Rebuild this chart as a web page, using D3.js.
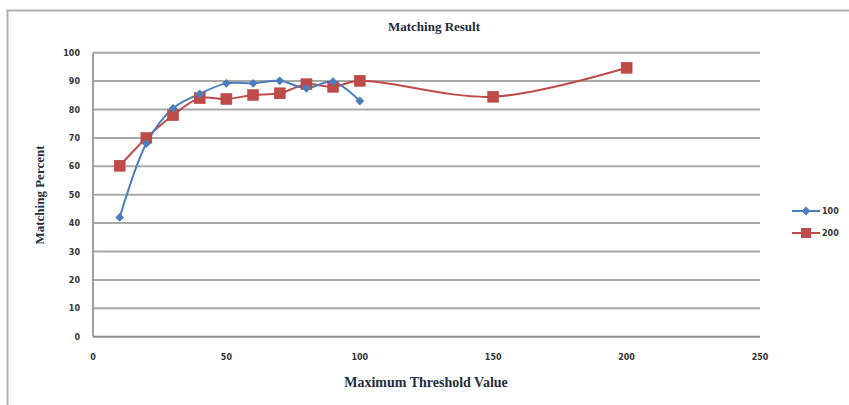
<!DOCTYPE html>
<html>
<head>
<meta charset="utf-8">
<script src="https://cdn.jsdelivr.net/npm/d3@7"></script>
<style>
  html, body { margin: 0; padding: 0; background: #fff; }
  svg { display: block; }
</style>
</head>
<body>
<svg id="chart" width="849" height="405"></svg>
<script>
// Threshold values on the x axis
const thresholds100 = [10, 20, 30, 40, 50, 60, 70, 80, 90, 100];
const thresholds200 = [10, 20, 30, 40, 50, 60, 70, 80, 90, 100, 150, 200];
// Matching percent per series
const series100 = [42, 68, 80.4, 85.5, 89.2, 89.2, 90.1, 87.5, 89.8, 83];
const series200 = [60.2, 70, 78, 84, 83.7, 85.1, 85.7, 88.9, 88, 90.1, 84.5, 94.7];
const seriesNames = ["100", "200"];
const xTicks = [0, 50, 100, 150, 200, 250];
const yTicks = [0, 10, 20, 30, 40, 50, 60, 70, 80, 90, 100];

const svg = d3.select("#chart");
const plot = { left: 93, right: 760, top: 52.7, bottom: 336.7 };

const x = d3.scaleLinear().domain([0, 250]).range([plot.left, plot.right]);
const y = d3.scaleLinear().domain([0, 100]).range([plot.bottom, plot.top]);

// Outer chart frame
svg.append("rect")
  .attr("x", 7.5).attr("y", 10.5).attr("width", 860).attr("height", 420)
  .attr("fill", "none").attr("stroke", "#b0b0b0").attr("stroke-width", 2);

// Title
svg.append("text")
  .attr("x", 434).attr("y", 31)
  .attr("text-anchor", "middle")
  .attr("font-family", "Liberation Serif, Times New Roman, serif")
  .attr("font-weight", "bold").attr("font-size", 13)
  .attr("fill", "#1f2d3d")
  .text("Matching Result");

// Horizontal gridlines
svg.append("g")
  .selectAll("line")
  .data(yTicks)
  .join("line")
  .attr("x1", plot.left).attr("x2", plot.right)
  .attr("y1", d => y(d)).attr("y2", d => y(d))
  .attr("stroke", d => d === 0 ? "#8c8c8c" : "#a8a8a8")
  .attr("stroke-width", 2);

// Y axis line
svg.append("line")
  .attr("x1", plot.left).attr("x2", plot.left)
  .attr("y1", plot.top).attr("y2", plot.bottom)
  .attr("stroke", "#a0a0a0").attr("stroke-width", 2);

// Y tick labels
svg.append("g")
  .selectAll("text")
  .data(yTicks)
  .join("text")
  .attr("x", 80).attr("y", d => y(d) + 3)
  .attr("text-anchor", "end")
  .attr("font-family", "DejaVu Sans, sans-serif")
  .attr("font-size", 8).attr("font-weight", "bold")
  .attr("fill", "#333")
  .text(d => d);

// X tick labels
svg.append("g")
  .selectAll("text")
  .data(xTicks)
  .join("text")
  .attr("x", d => x(d)).attr("y", 360)
  .attr("text-anchor", "middle")
  .attr("font-family", "DejaVu Sans, sans-serif")
  .attr("font-size", 8).attr("font-weight", "bold")
  .attr("fill", "#333")
  .text(d => d);

// Axis titles
svg.append("text")
  .attr("x", 426).attr("y", 387)
  .attr("text-anchor", "middle")
  .attr("font-family", "Liberation Serif, Times New Roman, serif")
  .attr("font-weight", "bold").attr("font-size", 14)
  .attr("fill", "#1f2d3d")
  .text("Maximum Threshold Value");

svg.append("text")
  .attr("transform", "translate(44,195) rotate(-90)")
  .attr("text-anchor", "middle")
  .attr("font-family", "Liberation Serif, Times New Roman, serif")
  .attr("font-weight", "bold").attr("font-size", 13)
  .attr("fill", "#1f2d3d")
  .text("Matching Percent");

const blue = "#4a7ebb", red = "#be4b48";
const line = d3.line().x(d => x(d[0])).y(d => y(d[1])).curve(d3.curveCatmullRom.alpha(0.5));

const data100 = thresholds100.map((t, i) => [t, series100[i]]);
const data200 = thresholds200.map((t, i) => [t, series200[i]]);

// Series 200 (drawn first, behind)
svg.append("path").datum(data200)
  .attr("d", line).attr("fill", "none")
  .attr("stroke", red).attr("stroke-width", 2);

// Series 100
svg.append("path").datum(data100)
  .attr("d", line).attr("fill", "none")
  .attr("stroke", blue).attr("stroke-width", 2);

// Square markers for series 200
svg.append("g").selectAll("rect").data(data200).join("rect")
  .attr("x", d => x(d[0]) - 5.5).attr("y", d => y(d[1]) - 5.5)
  .attr("width", 11).attr("height", 11)
  .attr("fill", red).attr("stroke", "#b5403e").attr("stroke-width", 0.5);

// Diamond markers for series 100
const diamond = d3.symbol().type(d3.symbolDiamond2).size(50);
svg.append("g").selectAll("path").data(data100).join("path")
  .attr("transform", d => `translate(${x(d[0])},${y(d[1])})`)
  .attr("d", diamond)
  .attr("fill", blue);

// Legend
const legend = svg.append("g");
const legendRows = [
  { name: seriesNames[0], color: blue, marker: "diamond", yPos: 211 },
  { name: seriesNames[1], color: red, marker: "square", yPos: 233 }
];
legendRows.forEach(r => {
  legend.append("line")
    .attr("x1", 792).attr("x2", 820)
    .attr("y1", r.yPos).attr("y2", r.yPos)
    .attr("stroke", r.color).attr("stroke-width", 2);
  if (r.marker === "diamond") {
    legend.append("path")
      .attr("transform", `translate(806,${r.yPos})`)
      .attr("d", diamond).attr("fill", r.color);
  } else {
    legend.append("rect")
      .attr("x", 801).attr("y", r.yPos - 5)
      .attr("width", 10).attr("height", 10)
      .attr("fill", r.color);
  }
  legend.append("text")
    .attr("x", 822).attr("y", r.yPos + 3)
    .attr("font-family", "DejaVu Sans, sans-serif")
    .attr("font-size", 8).attr("font-weight", "bold")
    .attr("fill", "#333")
    .text(r.name);
});
</script>
</body>
</html>
